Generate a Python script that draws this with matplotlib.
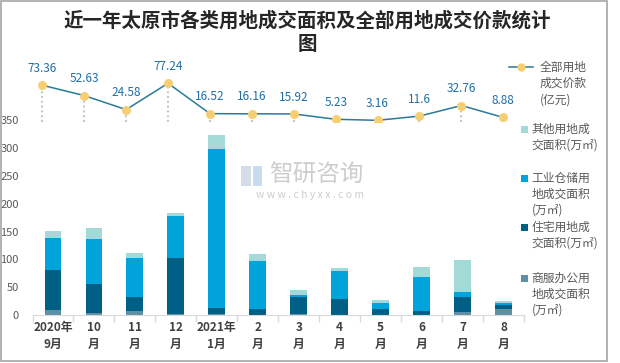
import numpy as np
import matplotlib
matplotlib.use("Agg")
import matplotlib.pyplot as plt
from matplotlib.patches import Rectangle
from matplotlib.lines import Line2D

plt.rcParams["font.family"] = ["Noto Sans CJK SC", "DejaVu Sans"]

MONTHS = ["2020年\n9月", "10\n月", "11\n月", "12\n月", "2021年\n1月", "2\n月",
          "3\n月", "4\n月", "5\n月", "6\n月", "7\n月", "8\n月"]
# land area, 万㎡ (stack order bottom -> top)
COMMERCIAL = [9, 4, 7, 2, 2, 0.5, 2.5, 0.5, 0.5, 0.5, 5, 10]
RESIDENTIAL = [72, 52, 25, 101, 11, 10.5, 30, 28.5, 10.5, 6.5, 27, 8.5]
INDUSTRIAL = [57.6, 81, 71, 75, 286, 86, 4, 50, 11, 61, 9, 3.5]
OTHER = [12.4, 20, 9, 6, 25, 13, 9, 6, 5, 18, 58, 3]
# total transaction price, 亿元
PRICE = [73.36, 52.63, 24.58, 77.24, 16.52, 16.16, 15.92, 5.23, 3.16, 11.6, 32.76, 8.88]

C_OTHER, C_IND, C_RES, C_COM = "#a3d9d6", "#00a3da", "#005f84", "#5e8fa3"
C_LINE, C_MARK, C_LAB = "#2a7a9b", "#f6cf73", "#1f6ea6"
GRAY = "#595959"

W, H = 620, 363
fig = plt.figure(figsize=(W / 100, H / 100), dpi=100)


def px_axes(x0, y0, x1, y1):
    # pixel box (top-left origin) -> figure axes
    return fig.add_axes([x0 / W, 1 - y1 / H, (x1 - x0) / W, (y1 - y0) / H])


# ---- bars
ax = px_axes(32.5, 120.5, 524, 315)
x = np.arange(len(MONTHS))
bottom = np.zeros(len(x))
for vals, col in [(COMMERCIAL, C_COM), (RESIDENTIAL, C_RES), (INDUSTRIAL, C_IND), (OTHER, C_OTHER)]:
    ax.bar(x, vals, width=0.41, bottom=bottom, color=col, zorder=2)
    bottom += np.asarray(vals)
ax.set_xlim(-0.5, len(x) - 0.5)
ax.set_ylim(0, 350)
ax.set_yticks(np.arange(0, 351, 50))
ax.tick_params(axis="y", length=0, pad=10, labelsize=8, labelcolor=GRAY)
ax.set_xticks(np.arange(-0.5, len(x), 1.0))
ax.set_xticklabels([])
ax.tick_params(axis="x", which="major", length=5, color="#d9d9d9", width=1)
ax.set_xticks(x, minor=True)
ax.set_xticklabels(MONTHS, minor=True, fontsize=8.5, fontweight="bold", color="#404040",
                   linespacing=1.45)
ax.tick_params(axis="x", which="minor", length=0, pad=4)
for s in ["top", "right", "left"]:
    ax.spines[s].set_visible(False)
ax.spines["bottom"].set_color("#d9d9d9")
ax.patch.set_alpha(0)

# ---- line (own axes, like the excel secondary plot)
lx = px_axes(21.35, 51.9, 524.25, 121.9)
lx.set_xlim(-0.5, len(x) - 0.5)
lx.set_ylim(0, 140)
lx.vlines(x, 0, PRICE, colors="#c8c8c8", linestyles=(0, (1, 1.3)), lw=1.5, zorder=1)
lx.plot(x, PRICE, color=C_LINE, lw=1.1, marker="o", ms=5.5, mfc=C_MARK, mec=C_MARK, zorder=3)
for xi, v in zip(x, PRICE):
    lx.annotate(f"{v:g}", (xi, v), xytext=(0, 7.5), textcoords="offset points",
                ha="center", va="bottom", fontsize=8.5, color=C_LAB)
lx.axis("off")

# ---- title
fig.text(307 / W, 1 - 21 / H, "近一年太原市各类用地成交面积及全部用地成交价款统计",
         ha="center", va="center", fontsize=14, fontweight="bold", color="#262626")
fig.text(307 / W, 1 - 45 / H, "图", ha="center", va="center", fontsize=14,
         fontweight="bold", color="#262626")

# ---- watermark
fig.text(316 / W, 1 - 175 / H, "智研咨询", ha="center", va="center", fontsize=17,
         color="#cdcdcd", zorder=0)
fig.text(310 / W, 1 - 195 / H, "w w w . c h y x x . c o m", ha="center", va="center",
         fontsize=7.5, color="#cdcdcd", zorder=0)
fig.patches.append(Rectangle((241 / W, 1 - 186 / H), 10 / W, 20 / H, transform=fig.transFigure,
                             facecolor="#d5dcea", edgecolor="none", zorder=0))
fig.patches.append(Rectangle((253 / W, 1 - 186 / H), 9 / W, 20 / H, transform=fig.transFigure,
                             facecolor="#c9dcef", edgecolor="none", zorder=0))

# ---- legend (manual, excel-like spacing)
fig.lines.append(Line2D([509 / W, 533 / W], [1 - 67 / H] * 2, transform=fig.transFigure,
                        color=C_LINE, lw=1.1))
fig.lines.append(Line2D([521 / W], [1 - 67 / H], transform=fig.transFigure, marker="o",
                        ms=5, mfc=C_MARK, mec=C_MARK))
for i, t in enumerate(["全部用地", "成交价款", "(亿元)"]):
    fig.text(540 / W, 1 - (67 + 16.5 * i) / H, t, va="center", fontsize=8.5, color=GRAY)

legend_rows = [
    (C_OTHER, 129, ["其他用地成", "交面积(万㎡)"]),
    (C_IND, 178, ["工业仓储用", "地成交面积", "(万㎡)"]),
    (C_RES, 227, ["住宅用地成", "交面积(万㎡)"]),
    (C_COM, 278, ["商服办公用", "地成交面积", "(万㎡)"]),
]
for col, y0, lines in legend_rows:
    fig.patches.append(Rectangle((521 / W, 1 - (y0 + 3.5) / H), 7 / W, 7 / H,
                                 transform=fig.transFigure, facecolor=col, edgecolor="none"))
    for i, t in enumerate(lines):
        fig.text(531.5 / W, 1 - (y0 + 16 * i) / H, t, va="center", fontsize=8.5, color=GRAY)

# ---- outer frame
fig.patches.append(Rectangle((0.5 / W, 1 - 360.5 / H), 606 / W, 360 / H, transform=fig.transFigure,
                             facecolor="none", edgecolor="#a6a6a6", lw=1.2))

fig.savefig("out.png", dpi=100)
